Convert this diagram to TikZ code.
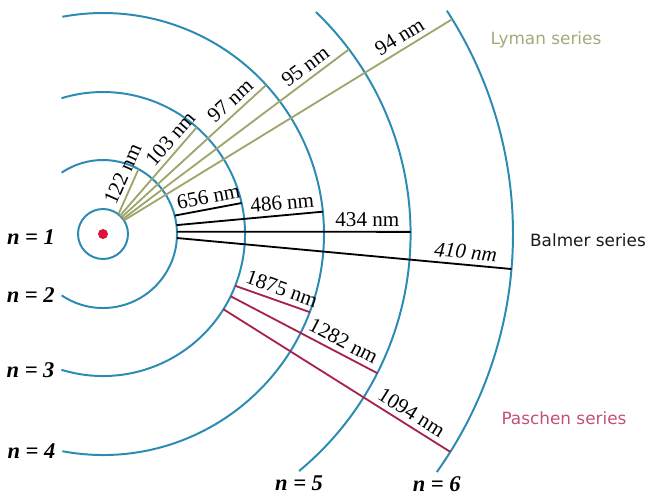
\documentclass[tikz,border=0pt]{standalone}
\usepackage{fontspec}
\setmainfont{Liberation Serif}
\newfontfamily\seriesfont{DejaVu Sans}
\usetikzlibrary{positioning}

\definecolor{orbit}{HTML}{2B8BB3}
\definecolor{lyman}{HTML}{9EA56B}
\definecolor{lymantext}{HTML}{A3AA7A}
\definecolor{paschen}{HTML}{A6234C}
\definecolor{paschentext}{HTML}{C24F7A}
\definecolor{nucleus}{HTML}{DC143C}

\def\rone{0.625}
\def\rtwo{1.85}
\def\rthree{3.55}
\def\rfour{5.525}
\def\rfive{7.69}
\def\rsix{10.25}
\newcommand\nmfont{\fontsize{15}{18}\selectfont}
\newcommand\levelfont{\fontsize{16}{19}\selectfont\bfseries\itshape}

\begin{document}
\begin{tikzpicture}[
    nm/.style={sloped, above, font=\nmfont},
    level/.style={font=\levelfont},
    series/.style={font=\seriesfont\fontsize{12}{14}\selectfont}]

\useasboundingbox (-2.575,-6.55) rectangle (13.825,5.85);

% orbits
\begin{scope}[draw=orbit, line width=1.4pt]
    \draw (0,0) circle (\rone);
    \coordinate (o2b) at (-124:\rtwo);
    \coordinate (o3b) at (-107:\rthree);
    \coordinate (o4b) at (-100.6:\rfour);
    \coordinate (o5b) at (-50.4:\rfive);
    \coordinate (o6b) at (-35.5:\rsix);
    \draw (o2b) arc[start angle=-124, end angle=124, radius=\rtwo];
    \draw (o3b) arc[start angle=-107, end angle=107, radius=\rthree];
    \draw (o4b) arc[start angle=-100.6, end angle=100.6, radius=\rfour];
    \draw (o5b) arc[start angle=-50.4, end angle=46.2, radius=\rfive];
    \draw (o6b) arc[start angle=-35.5, end angle=33, radius=\rsix];
\end{scope}
\fill[nucleus] (0,0) circle (0.125);

\node (n1) [level] at (-1.8,-0.075) {n = 1};
\node (n2) [level, left=0.05 of o2b] {n = 2};
\node (n3) [level, left=0.05 of o3b] {n = 3};
\node (n4) [level, left=0.05 of o4b] {n = 4};
\node (n5) [level, below=0 of o5b] {n = 5};
\node (n6) [level, below=0 of o6b] {n = 6};

% Lyman
\coordinate (l2s) at (52:\rone);   \coordinate (l2e) at (61.3:\rtwo);
\coordinate (l3s) at (47:\rone);   \coordinate (l3e) at (48.7:\rthree);
\coordinate (l4s) at (42:\rone);   \coordinate (l4e) at (42.4:\rfour);
\coordinate (l5s) at (37:\rone);   \coordinate (l5e) at (36.9:\rfive);
\coordinate (l6s) at (33:\rone);   \coordinate (l6e) at (31.6:\rsix);

% Balmer
\coordinate (b3s) at (14.4:\rtwo); \coordinate (b3e) at (12.6:\rthree);
\coordinate (b4s) at (6.9:\rtwo);  \coordinate (b4e) at (5.8:\rfour);
\coordinate (b5s) at (1.8:\rtwo);  \coordinate (b5e) at (0.4:\rfive);
\coordinate (b6s) at (-3.1:\rtwo); \coordinate (b6e) at (-4.9:\rsix);

% Paschen
\coordinate (p4s) at (-21.4:\rthree); \coordinate (p4e) at (-20.7:\rfour);
\coordinate (p5s) at (-26:\rthree);   \coordinate (p5e) at (-26.9:\rfive);
\coordinate (p6s) at (-32:\rthree);   \coordinate (p6e) at (-32.1:\rsix);

\begin{scope}[every edge/.style={draw=lyman, line width=1.3pt}]
    \path (l2s) edge node[nm, pos=0.78] {122 nm} (l2e);
    \path (l3s) edge node[nm, pos=0.78] {103 nm} (l3e);
    \path (l4s) edge node[nm, pos=0.81] {97 nm} (l4e);
    \path (l5s) edge node[nm, pos=0.84] {95 nm} (l5e);
    \path (l6s) edge node[nm, pos=0.86] {94 nm} (l6e);
\end{scope}

\begin{scope}[every edge/.style={draw=black, line width=1.3pt}]
    \path (b3s) edge node[nm, pos=0.54] {656 nm} (b3e);
    \path (b4s) edge node[nm, pos=0.73] {486 nm} (b4e);
    \path (b5s) edge node[nm, pos=0.815] {434 nm} (b5e);
    \path (b6s) edge node[nm, pos=0.86, font=\nmfont\itshape] {410 nm} (b6e);
\end{scope}

\begin{scope}[every edge/.style={draw=paschen, line width=1.3pt}]
    \path (p4s) edge node[nm, pos=0.57] {1875 nm} (p4e);
    \path (p5s) edge node[nm, pos=0.73] {1282 nm} (p5e);
    \path (p6s) edge node[nm, pos=0.80] {1094 nm} (p6e);
\end{scope}

\node (lymanlbl) [series, text=lymantext] at (11.075,4.85) {Lyman series};
\node (balmerlbl) [series, text=black!90] at (12.125,-0.15) {Balmer series};
\node (paschenlbl) [series, text=paschentext] at (11.525,-4.6) {Paschen series};

\end{tikzpicture}
\end{document}
